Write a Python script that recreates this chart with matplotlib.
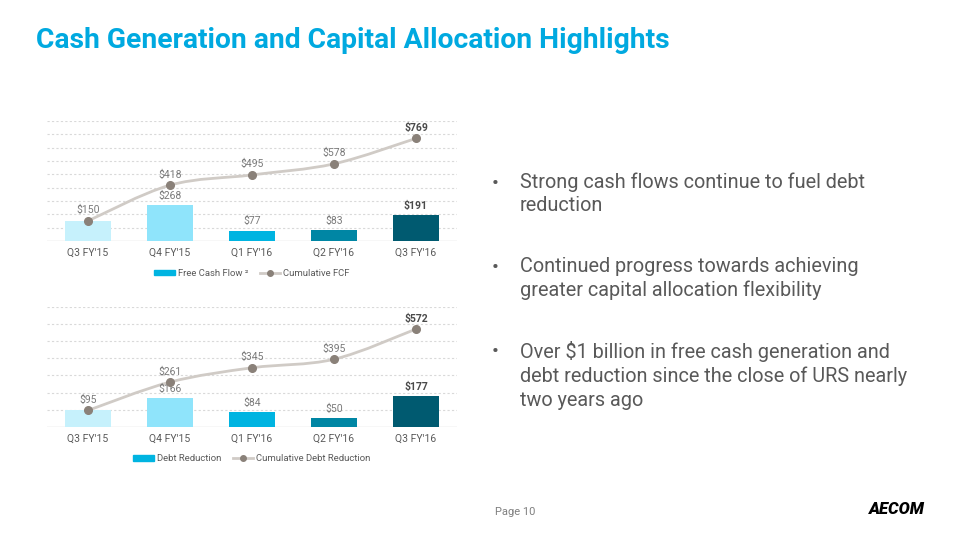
import matplotlib.pyplot as plt
from matplotlib.path import Path
from matplotlib.patches import PathPatch
from matplotlib.lines import Line2D
import numpy as np

plt.rcParams['font.family'] = ['Roboto', 'DejaVu Sans']

quarters = ["Q3 FY'15", "Q4 FY'15", "Q1 FY'16", "Q2 FY'16", "Q3 FY'16"]
fcf = [150, 268, 77, 83, 191]
cum_fcf = [150, 418, 495, 578, 769]
debt_red = [95, 166, 84, 50, 177]
cum_debt = [95, 261, 345, 395, 572]

bar_colors = ['#C6F1FC', '#8FE4FB', '#00B4E1', '#0086A4', '#005A70']
line_color = '#D0CBC6'
marker_color = '#8A8179'
label_gray = '#7A7A7A'
title_blue = '#00A9E0'

bullets = [
    "Strong cash flows continue to fuel debt\nreduction",
    "Continued progress towards achieving\ngreater capital allocation flexibility",
    "Over $1 billion in free cash generation and\ndebt reduction since the close of URS nearly\ntwo years ago",
]


def smooth_path(xs, ys, t=0.5):
    # catmull-rom style bezier through the data points
    pts = list(zip(xs, ys))
    verts = [pts[0]]
    codes = [Path.MOVETO]
    for i in range(len(pts) - 1):
        p0 = pts[i - 1] if i > 0 else pts[i]
        p1 = pts[i]
        p2 = pts[i + 1]
        p3 = pts[i + 2] if i + 2 < len(pts) else pts[i + 1]
        c1 = (p1[0] + (p2[0] - p0[0]) * t / 3, p1[1] + (p2[1] - p0[1]) * t / 3)
        c2 = (p2[0] - (p3[0] - p1[0]) * t / 3, p2[1] - (p3[1] - p1[1]) * t / 3)
        verts += [c1, c2, p2]
        codes += [Path.CURVE4] * 3
    return Path(verts, codes)


def draw_chart(ax, bars, cum, ymax, bar_name, line_name):
    x = np.arange(len(quarters))
    ax.set_xlim(-0.5, len(quarters) - 0.5)
    ax.set_ylim(0, ymax)
    for g in range(100, ymax + 1, 100):
        ax.axhline(g, color='#D9D9D9', lw=0.8, ls=(0, (2, 2)), zorder=0)
    ax.axhline(0, color='#D9D9D9', lw=1.0, zorder=1)
    ax.bar(x, bars, width=0.57, color=bar_colors, zorder=2)
    ax.add_patch(PathPatch(smooth_path(x, cum), fill=False, ec=line_color, lw=2, zorder=3))
    ax.plot(x, cum, 'o', color=marker_color, ms=5.5, zorder=4)
    n = len(quarters)
    for i in range(n):
        last = i == n - 1
        c = '#4A4A4A' if last else label_gray
        w = 'bold' if last else 'normal'
        # first quarter: bar and cumulative are the same number, shown once
        if bars[i] != cum[i]:
            ax.annotate(f"${bars[i]}", (x[i], bars[i]), xytext=(0, 3), textcoords='offset points',
                        ha='center', va='bottom', fontsize=7.5, color=c, fontweight=w)
        ax.annotate(f"${cum[i]}", (x[i], cum[i]), xytext=(0, 4), textcoords='offset points',
                    ha='center', va='bottom', fontsize=7.5, color=c, fontweight=w)
    ax.set_xticks(x)
    ax.set_xticklabels(quarters, fontsize=7.5, color='#595959')
    ax.tick_params(axis='x', length=0, pad=5)
    ax.set_yticks([])
    for s in ax.spines.values():
        s.set_visible(False)
    handles = [plt.Rectangle((0, 0), 1, 1, color='#00B4E1'),
               Line2D([0], [0], color=line_color, lw=2, marker='o', mfc=marker_color,
                      mec=marker_color, ms=4)]
    ax.legend(handles, [bar_name, line_name], loc='center', bbox_to_anchor=(0.5, -0.27),
              ncol=2, frameon=False, fontsize=6.8, handlelength=2.2, handleheight=0.5,
              columnspacing=1.2, handletextpad=0.3, labelcolor='#595959')


fig = plt.figure(figsize=(9.6, 5.4), dpi=100)
fig.text(0.037, 1 - 41 / 540, "Cash Generation and Capital Allocation Highlights", fontsize=20.3,
         fontweight='bold', color=title_blue, va='center', ha='left')

ax1 = fig.add_axes([0.049, 0.554, 0.427, 0.222])
draw_chart(ax1, fcf, cum_fcf, 900, "Free Cash Flow \u00b2", "Cumulative FCF")
ax2 = fig.add_axes([0.049, 0.210, 0.427, 0.221])
draw_chart(ax2, debt_red, cum_debt, 700, "Debt Reduction", "Cumulative Debt Reduction")

bullet_y = [183, 268, 352]
for by, txt in zip(bullet_y, bullets):
    fig.text(492 / 960, 1 - by / 540, "\u2022", fontsize=15, color='#595959', va='center')
    fig.text(520 / 960, 1 - (by - 11) / 540, txt, fontsize=14.3, color='#595959',
             va='top', ha='left', linespacing=1.32)

fig.text(495 / 960, 1 - 512 / 540, "Page 10", fontsize=8, color='#7F7F7F', va='center')
fig.text(925 / 960, 1 - 509 / 540, "AECOM", fontsize=12, color='black', fontweight='heavy',
         style='italic', va='center', ha='right')

fig.savefig('out.png', dpi=100)
